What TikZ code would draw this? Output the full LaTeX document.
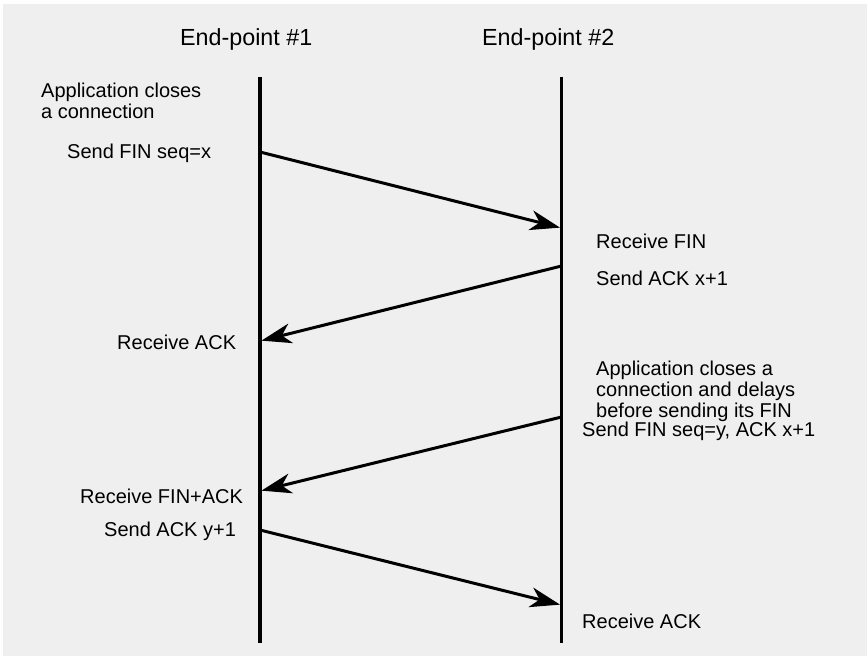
\documentclass[tikz,border=0pt]{standalone}
\usepackage{fontspec}
\setmainfont{Liberation Sans}
\usetikzlibrary{arrows.meta}
\definecolor{panel}{HTML}{EFEFEF}
\newcommand{\stacked}[1]{\begin{tabular}[t]{@{}l@{}}#1\end{tabular}}
\begin{document}
\begin{tikzpicture}[x=1pt,y=-1pt,
  lifeline/.style={line width=3.6pt},
  msg/.style={line width=3pt,-{Stealth[length=30pt,width=20pt,inset=9pt]},shorten >=1.5pt},
  label/.style={anchor=base west,inner sep=0pt,font=\fontsize{20}{21}\selectfont},
  title/.style={anchor=base west,inner sep=0pt,font=\fontsize{23.3}{26}\selectfont}]
  \useasboundingbox (0,0) rectangle (867,656);
  \fill[white] (0,0) rectangle (867,656);
  \fill[panel] (3,4) rectangle (867,656);

  % lifelines
  \coordinate (t1) at (260,77);
  \coordinate (b1) at (260,643);
  \coordinate (t2) at (561.5,77);
  \coordinate (b2) at (561.5,643);
  \draw[lifeline] (t1) -- (b1);
  \draw[lifeline] (t2) -- (b2);

  % titles
  \node[title] (h1) at (180,45) {End-point \#1};
  \node[title] (h2) at (482,45) {End-point \#2};

  % message end points
  \coordinate (finx) at (260,152);
  \coordinate (finxr) at (561.5,228);
  \coordinate (ackx) at (561.5,266);
  \coordinate (ackxr) at (260,341);
  \coordinate (finy) at (561.5,417);
  \coordinate (finyr) at (260,491);
  \coordinate (acky) at (260,530);
  \coordinate (ackyr) at (561.5,605);

  \draw[msg] (finx) -- (finxr);
  \draw[msg] (ackx) -- (ackxr);
  \draw[msg] (finy) -- (finyr);
  \draw[msg] (acky) -- (ackyr);

  % left side texts
  \node[label] (l1) at (41,97) {\stacked{Application closes\\a connection}};
  \node[label] (l2) at (67,158) {Send FIN seq=x};
  \node[label] (l3) at (117,349) {Receive ACK};
  \node[label] (l4) at (80,503) {Receive FIN+ACK};
  \node[label] (l5) at (104,536) {Send ACK y+1};

  % right side texts
  \node[label] (r1) at (596,248) {Receive FIN};
  \node[label] (r2) at (596,285) {Send ACK x+1};
  \node[label] (r3) at (596,375) {\stacked{Application closes a\\connection and delays\\before sending its FIN}};
  \node[label] (r4) at (582,436) {Send FIN seq=y, ACK x+1};
  \node[label] (r5) at (582,628) {Receive ACK};
\end{tikzpicture}
\end{document}
